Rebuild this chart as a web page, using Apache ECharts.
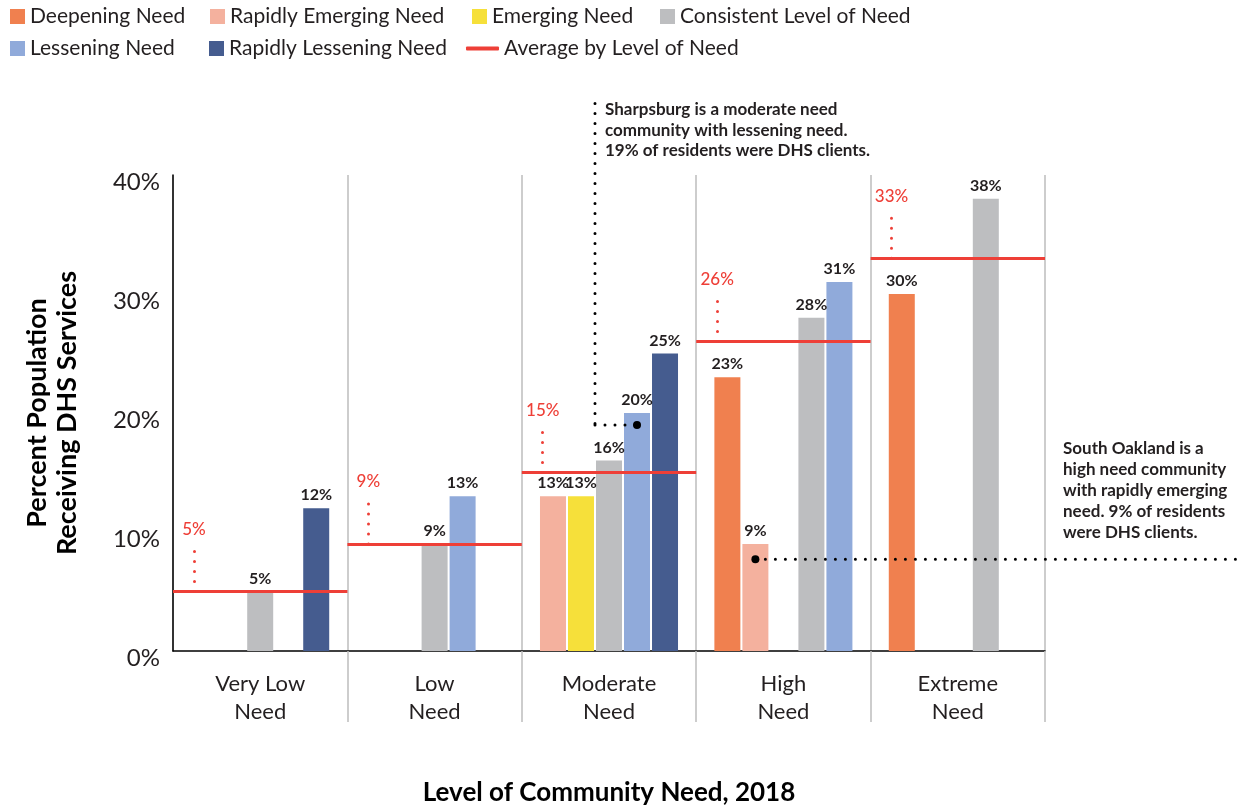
<!DOCTYPE html>
<html>
<head>
<meta charset="utf-8">
<script src="https://cdn.jsdelivr.net/npm/echarts@6/dist/echarts.min.js"></script>
<style>
  html, body { margin: 0; padding: 0; background: #ffffff; }
  #chart { width: 1240px; height: 807px; }
</style>
</head>
<body>
<div id="chart"></div>
<script>
// Levels of community need (x categories)
const categories = ['Very Low\nNeed', 'Low\nNeed', 'Moderate\nNeed', 'High\nNeed', 'Extreme\nNeed'];

// Percent of population receiving DHS services, by trend of need.
// null = the trend has no slot in that level, 0 = an empty slot.
const deepening        = [0,    0,    null, 23,   30];
const rapidlyEmerging  = [0,    0,    13,   9,    0];
const emerging         = [null, null, 13,   0,    0];
const consistent       = [5,    9,    16,   28,   38];
const lessening        = [0,    13,   20,   31,   0];
const rapidlyLessening = [12,   0,    25,   null, null];

// Average by level of need
const averages = [5, 9, 15, 26, 33];

// Y axis tick labels
const yTickLabels = ['0%', '10%', '20%', '30%', '40%'];

// Highlighted communities
const sharpsburg = {
  level: 2, trend: 4, value: 19,
  text: 'Sharpsburg is a moderate need\ncommunity with lessening need.\n19% of residents were DHS clients.'
};
const southOakland = {
  level: 3, trend: 1, value: 7.7,
  text: 'South Oakland is a\nhigh need community\nwith rapidly emerging\nneed. 9% of residents\nwere DHS clients.'
};

const trendNames = ['Deepening Need', 'Rapidly Emerging Need', 'Emerging Need',
  'Consistent Level of Need', 'Lessening Need', 'Rapidly Lessening Need'];
const trendValues = [deepening, rapidlyEmerging, emerging, consistent, lessening, rapidlyLessening];
const trendColors = ['#F0804F', '#F4B19E', '#F6E03A', '#BDBEC0', '#90AADA', '#455C8F'];
const avgName = 'Average by Level of Need';
const RED = '#EE3F37';
const INK = '#231F20';
const FONT = 'Lato';

// Spacing between neighbouring bars, as a fraction of one category band
const SLOT_STEP = 0.1606;

// Center position (in category units) of a trend's bar within a level
function barPosition(level, trend) {
  const present = [];
  trendValues.forEach((arr, t) => { if (arr[level] !== null) present.push(t); });
  const k = present.indexOf(trend);
  return level + 0.5 + (k - (present.length - 1) / 2) * SLOT_STEP;
}

const barSeries = trendNames.map((name, t) => ({
  type: 'bar',
  name: name,
  xAxisIndex: 1,
  yAxisIndex: 0,
  barWidth: 26,
  barGap: '-100%',
  z: 2,
  itemStyle: { color: trendColors[t] },
  data: trendValues[t]
    .map((v, level) => (v ? [barPosition(level, t), v] : null))
    .filter(d => d !== null),
  label: {
    show: true,
    position: 'top',
    distance: 5,
    formatter: p => p.value[1] + '%',
    fontFamily: FONT,
    fontSize: 16,
    fontWeight: 'bold',
    color: INK
  }
}));

// Average lines across each level, with a dotted leader up to the value label
const avgMarks = [];
averages.forEach((avg, level) => {
  avgMarks.push([
    { coord: [level, avg], lineStyle: { color: RED, width: 3, type: 'solid' }, label: { show: false } },
    { coord: [level + 1, avg] }
  ]);
  avgMarks.push([
    {
      coord: [level + 0.12, avg],
      lineStyle: { color: RED, width: 3, type: [0, 10], cap: 'round' },
      label: {
        show: true, position: 'end', distance: 6, formatter: avg + '%',
        color: RED, fontFamily: FONT, fontSize: 17, fontWeight: 500
      }
    },
    { coord: [level + 0.12, avg + 4] }
  ]);
});

const avgSeries = {
  type: 'line',
  name: avgName,
  xAxisIndex: 1,
  yAxisIndex: 0,
  data: [],
  symbol: 'none',
  color: RED,
  itemStyle: { color: RED },
  lineStyle: { color: RED, width: 3 },
  z: 5,
  markLine: {
    silent: true,
    symbol: ['none', 'none'],
    animation: false,
    z: 5,
    data: avgMarks
  }
};

// One legend block per entry so each sits at its own spot in the two-row key
const legendText = { fontFamily: FONT, fontSize: 21, color: INK };
const legendSlots = [
  { name: trendNames[0], left: 10, top: 6 },
  { name: trendNames[1], left: 210, top: 6 },
  { name: trendNames[2], left: 472, top: 6 },
  { name: trendNames[3], left: 660, top: 6 },
  { name: trendNames[4], left: 10, top: 38 },
  { name: trendNames[5], left: 209, top: 38 }
];
const legends = legendSlots.map(s => ({
  left: s.left, top: s.top, padding: 0, itemWidth: 15, itemHeight: 15,
  icon: 'rect', selectedMode: false, textStyle: legendText, data: [s.name]
}));
legends.push({
  left: 466, top: 38, padding: 0, itemWidth: 33, itemHeight: 4,
  icon: 'roundRect', selectedMode: false, textStyle: legendText, data: [avgName]
});

const option = {
  animation: false,
  textStyle: { fontFamily: FONT },
  legend: legends,
  grid: { left: 173, right: 195, top: 175, bottom: 156, outerBoundsMode: 'none', containLabel: false },
  xAxis: [
    {
      type: 'category',
      data: categories,
      boundaryGap: true,
      axisLine: { show: true, lineStyle: { color: '#000', width: 1.5 } },
      axisTick: {
        show: true, length: 71, interval: (index) => index !== 0,
        lineStyle: { color: '#BDBDBD', width: 1.5 }
      },
      splitLine: { show: true, interval: 0, lineStyle: { color: '#BDBDBD', width: 1.5 } },
      axisLabel: { interval: 0, fontFamily: FONT, fontSize: 22, lineHeight: 28, color: INK, margin: 19 },
      name: 'Level of Community Need, 2018',
      nameLocation: 'middle',
      nameGap: 127,
      nameTextStyle: { fontFamily: FONT, fontSize: 26, fontWeight: 'bold', color: '#000', lineHeight: 30 }
    },
    { type: 'value', min: 0, max: 5, show: false }
  ],
  yAxis: {
    type: 'value',
    min: 0,
    max: 40,
    interval: 10,
    axisLine: { show: true, lineStyle: { color: '#000', width: 1.5 } },
    axisTick: { show: false },
    splitLine: { show: false },
    axisLabel: {
      formatter: v => yTickLabels[v / 10],
      fontFamily: FONT, fontSize: 24, color: INK, margin: 13,
      verticalAlign: 'top', lineHeight: 14
    },
    name: 'Percent Population\nReceiving DHS Services',
    nameLocation: 'middle',
    nameRotate: 90,
    nameGap: 91,
    nameTextStyle: { fontFamily: FONT, fontSize: 27, fontWeight: 'bold', color: '#000', lineHeight: 30 }
  },
  series: [...barSeries, avgSeries]
};

const chart = echarts.init(document.getElementById('chart'), null, { renderer: 'canvas' });
chart.setOption(option);

// Call-out leaders and notes, placed through the chart's own scales
const toPx = (x, y) => chart.convertToPixel({ seriesIndex: 0 }, [x, y]);
const dotStyle = { stroke: '#000', lineWidth: 3, lineDash: [0, 10], lineCap: 'round' };
const noteFont = 'bold 17px ' + FONT;

const sDot = toPx(barPosition(sharpsburg.level, sharpsburg.trend), sharpsburg.value);
const sCorner = toPx(barPosition(sharpsburg.level, sharpsburg.trend) - 1.5 * SLOT_STEP, sharpsburg.value);
const sTop = toPx(0, 46);

const oDot = toPx(barPosition(southOakland.level, southOakland.trend), southOakland.value);
const gridRight = toPx(5, 0)[0];

chart.setOption({
  graphic: [
    { type: 'line', z: 10, shape: { x1: sCorner[0], y1: sTop[1], x2: sCorner[0], y2: sCorner[1] }, style: dotStyle },
    { type: 'line', z: 10, shape: { x1: sCorner[0], y1: sCorner[1], x2: sDot[0], y2: sDot[1] }, style: dotStyle },
    { type: 'circle', z: 11, shape: { cx: sDot[0], cy: sDot[1], r: 4 }, style: { fill: '#000' } },
    {
      type: 'text', z: 11,
      style: { text: sharpsburg.text, x: sCorner[0] + 10, y: sTop[1] - 4, font: noteFont, lineHeight: 20.5, fill: INK, verticalAlign: 'top' }
    },
    { type: 'line', z: 10, shape: { x1: oDot[0], y1: oDot[1], x2: 1240, y2: oDot[1] }, style: dotStyle },
    { type: 'circle', z: 11, shape: { cx: oDot[0], cy: oDot[1], r: 4 }, style: { fill: '#000' } },
    {
      type: 'text', z: 11,
      style: { text: southOakland.text, x: gridRight + 18, y: oDot[1] - 16, font: noteFont, lineHeight: 21, fill: INK, verticalAlign: 'bottom' }
    }
  ]
});
</script>
</body>
</html>
